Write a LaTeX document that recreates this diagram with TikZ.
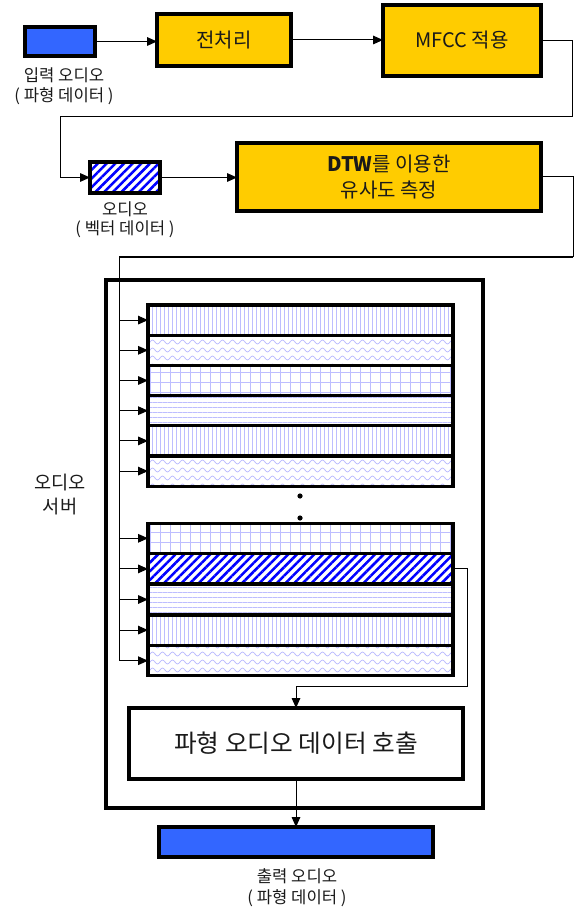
\documentclass[tikz,border=0pt]{standalone}
\usepackage{fontspec}
\setmainfont{Noto Sans CJK KR}
\usetikzlibrary{arrows.meta,patterns.meta}
\definecolor{ylw}{HTML}{FFCC00}
\definecolor{inblue}{HTML}{3366FF}
\definecolor{hatblue}{HTML}{0000FF}
\definecolor{lav}{HTML}{BDBDFF}
\definecolor{txt}{HTML}{1A1A1A}
\tikzdeclarepattern{
  name=wavy,
  type=uncolored,
  bottom left={(-.1pt,-.1pt)},
  top right={(7.6pt,6.1pt)},
  tile size={(7.5pt,6pt)},
  code={
    \draw[line width=0.6pt] (0pt,1.5pt) sin (1.875pt,3pt) cos (3.75pt,1.5pt) sin (5.625pt,0pt) cos (7.5pt,1.5pt);
  }
}
\tikzset{
  px/.style={x=0.75pt,y=-0.75pt},
  thickbox/.style={draw=black,line width=2.3pt,inner sep=0pt,outer sep=0pt,text=txt,align=center},
  conn/.style={line width=0.75pt,-{Triangle[length=7.5pt,width=6.5pt]}},
  plain/.style={line width=0.75pt},
  rowbox/.style={draw=black,line width=2.3pt,inner sep=0pt,outer sep=0pt,minimum width=228.75pt},
  pvl/.style={pattern={Lines[angle=90,distance=3pt,line width=0.6pt]},pattern color=lav},
  phl/.style={pattern={Lines[angle=0,distance=3.75pt,line width=0.6pt]},pattern color=lav},
  pgr/.style={pattern={Hatch[distance=7.5pt,line width=0.6pt]},pattern color=lav},
  pwv/.style={pattern=wavy,pattern color=lav},
  phat/.style={pattern={Lines[angle=45,distance=4.6pt,line width=1.9pt]},pattern color=hatblue},
  lbl/.style={text=txt,align=center,inner sep=0pt},
}
\begin{document}
\begin{tikzpicture}[px]
\useasboundingbox (0,0) rectangle (574,912);

% top row
\node[thickbox,fill=inblue,minimum width=52.5pt,minimum height=21.75pt] (inp) at (60,41.5) {};
\node[lbl,font=\fontsize{12.5}{15}\selectfont] (inplbl) at (64,86) {입력 오디오\\( 파형 데이터 )};
\node[thickbox,fill=ylw,minimum width=100.5pt,minimum height=39pt,font=\fontsize{15}{18}\selectfont] (pre) at (224,40) {전처리};
\node[thickbox,fill=ylw,minimum width=118.5pt,minimum height=53.25pt,font=\fontsize{15}{18}\selectfont] (mfcc) at (462,40.5) {MFCC 적용};

\draw[conn] (inp.east) -- (inp.east -| pre.west);
\draw[conn] (pre.east) -- (pre.east -| mfcc.west);

% second row
\node[thickbox,phat,minimum width=52.5pt,minimum height=23.25pt] (vec) at (125,177.5) {};
\node[lbl,font=\fontsize{12.5}{14}\selectfont] (veclbl) at (125,219.5) {오디오\\( 벡터 데이터 )};
\node[thickbox,fill=ylw,minimum width=228pt,minimum height=51pt,font=\fontsize{15}{20}\selectfont] (dtw) at (389,177) {\textbf{DTW}를 이용한\\유사도 측정};

\coordinate (c1a) at (572,117);
\coordinate (c1b) at (60,117);
\draw[plain] (mfcc.east) -| (c1a) -- (c1b);
\draw[conn] (c1b) |- (vec.west);
\draw[conn] (vec.east) -- (vec.east -| dtw.west);

\coordinate (c2a) at (573,257);
\coordinate (c2b) at (119,257);
\draw[plain] (dtw.east) -| (c2a);
\draw[line width=1.8pt] (c2a) -- (c2b);

% server box
\node[draw=black,line width=2.3pt,inner sep=0pt,minimum width=282.75pt,minimum height=396pt] (server) at (294.5,544) {};
\node[lbl,font=\fontsize{14}{18}\selectfont] (srvlbl) at (60,495) {오디오\\서버};

% rows
\foreach \i/\yc/\pat in {1/320.1/pvl,2/350.3/pwv,3/380.5/pgr,4/410.7/phl,5/440.9/pvl,6/471.1/pwv,
                          7/538.3/pgr,8/568.9/phat,9/599.5/phl,10/630.1/pvl,11/660.7/pwv}{
  \node[rowbox,\pat,minimum height=22.65pt] (r\i) at (300.5,\yc) {};
  \draw[conn] (c2b |- r\i.west) -- (r\i.west);
}
\draw[plain] (c2b) -- (c2b |- r11.west);

\fill (300,496) circle (2.6);
\fill (300,518) circle (2.6);

% call box
\node[thickbox,fill=white,minimum width=250.5pt,minimum height=53.25pt,font=\fontsize{18.5}{22}\selectfont] (call) at (296,743.5) {파형 오디오 데이터 호출};
\coordinate (c3a) at (467,686);
\draw[plain] (r8.east) -| (c3a) -- (c3a -| call.north);
\draw[conn] (c3a -| call.north) -- (call.north);

% output
\node[thickbox,fill=inblue,minimum width=205.5pt,minimum height=22.5pt] (out) at (296,842) {};
\draw[conn] (call.south) -- (out.north);
\node[lbl,font=\fontsize{12.5}{15.5}\selectfont] (outlbl) at (297,887.5) {출력 오디오\\( 파형 데이터 )};
\end{tikzpicture}
\end{document}
